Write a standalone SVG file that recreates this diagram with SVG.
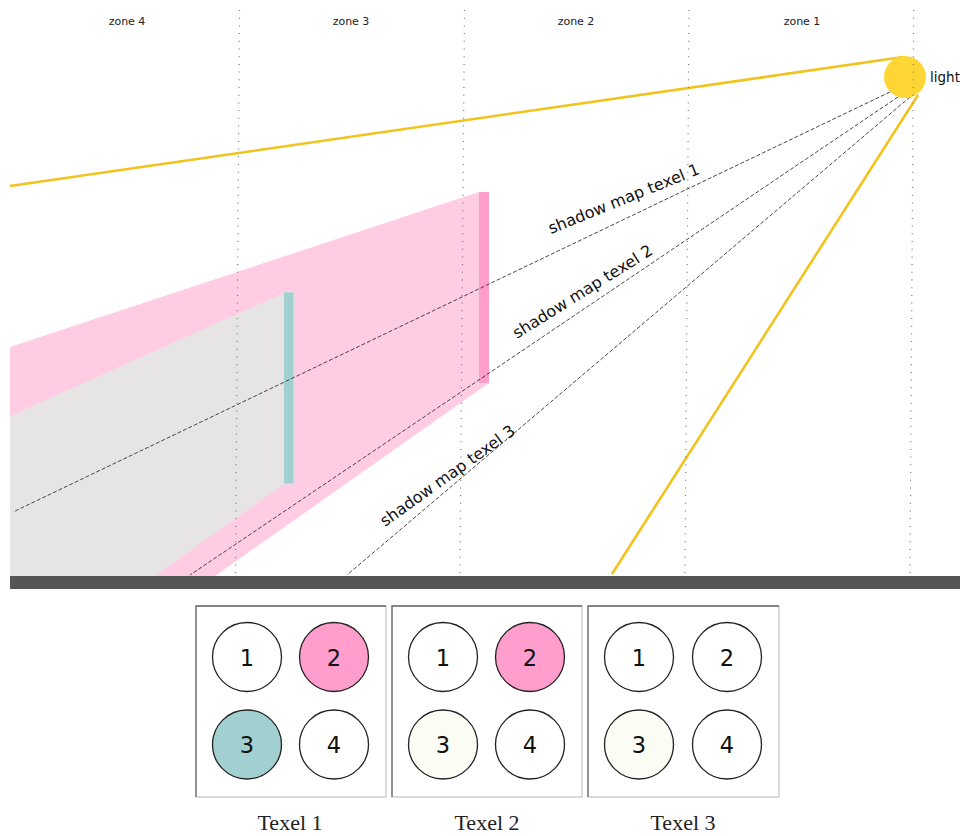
<svg xmlns="http://www.w3.org/2000/svg" width="960" height="836" viewBox="0 0 960 836">
  <style>
    .zone { font-family: "DejaVu Sans", Verdana, sans-serif; font-size: 11px; fill: #222; text-anchor: middle; }
    .ray-label { font-family: "DejaVu Sans", Verdana, sans-serif; font-size: 16px; fill: #111; }
    .light-label { font-family: "DejaVu Sans", Verdana, sans-serif; font-size: 13.5px; fill: #111; }
    .divider { stroke: #777; stroke-width: 1.2; stroke-dasharray: 1 6.7; fill: none; }
    .ray { stroke: #333; stroke-width: 0.9; stroke-dasharray: 4 2; fill: none; }
    .beam { stroke: #f2c31c; stroke-width: 2.6; fill: none; }
    .box { fill: #fff; stroke: #c4c4c4; stroke-width: 1.2; }
    .box-edge { stroke: #6a6a6a; stroke-width: 1.3; fill: none; }
    .sample { stroke: #222; stroke-width: 1.3; }
    .num { font-family: "DejaVu Sans", Verdana, sans-serif; font-size: 22.5px; fill: #111; text-anchor: middle; }
    .caption { font-family: "Liberation Serif", Georgia, serif; font-size: 22px; fill: #222; text-anchor: middle; }
    .white { fill: #ffffff; }
    .pink { fill: #ff9dcc; }
    .teal { fill: #a2cfcf; }
    .ivory { fill: #fbfcf3; }
  </style>

  <!-- shadow volumes -->
  <g id="shadow-pink">
    <polygon points="10,347 479,192 489,383 215,576 10,576" fill="#ffcce4"/>
  </g>
  <g id="shadow-gray">
    <polygon points="10,416 284,293 284,484 155,576 10,576" fill="#e6e4e5"/>
  </g>

  <!-- occluders -->
  <g id="occluder-pink">
    <rect x="479" y="192" width="10" height="191" fill="#ff9dcb"/>
  </g>
  <g id="occluder-teal">
    <rect x="283.5" y="292" width="10.5" height="192" fill="#a2cfcf" stroke="#d8ecec" stroke-width="0.8"/>
  </g>

  <!-- ground -->
  <g id="ground">
    <rect x="10" y="576" width="950" height="13" fill="#555555"/>
  </g>

  <!-- connectors -->
  <g id="connectors">
    <line class="beam" x1="10" y1="186" x2="903" y2="57"/>
    <line class="beam" x1="918" y1="95" x2="612" y2="574"/>
    <line class="ray" x1="890" y1="92" x2="13" y2="512"/>
    <line class="ray" x1="898" y1="97" x2="190" y2="575"/>
    <line class="ray" x1="910" y1="97" x2="347" y2="575"/>
  </g>

  <!-- light -->
  <g id="light">
    <circle cx="905" cy="77" r="21" fill="#fdd535"/>
    <text class="light-label" x="930" y="82">light</text>
  </g>

  <!-- zone dividers -->
  <g id="dividers">
    <line class="divider" x1="239.5" y1="10" x2="235.5" y2="574"/>
    <line class="divider" x1="464.5" y1="10" x2="460" y2="574"/>
    <line class="divider" x1="689" y1="10" x2="685" y2="574"/>
    <line class="divider" x1="913.7" y1="10" x2="910" y2="574"/>
  </g>

  <g id="zone-labels">
    <text class="zone" x="127" y="25">zone 4</text>
    <text class="zone" x="351" y="25">zone 3</text>
    <text class="zone" x="576" y="25">zone 2</text>
    <text class="zone" x="802" y="25">zone 1</text>
  </g>

  <g id="ray-labels">
    <text class="ray-label" transform="translate(551,234) rotate(-22)">shadow map texel 1</text>
    <text class="ray-label" transform="translate(517,339) rotate(-32)">shadow map texel 2</text>
    <text class="ray-label" transform="translate(385,527) rotate(-35.5)">shadow map texel 3</text>
  </g>

  <!-- texel panels -->
  <g id="texel-1">
    <rect class="box" x="196" y="606" width="190" height="191"/>
    <polyline class="box-edge" points="196,797 196,606 386,606"/>
    <circle class="sample white" cx="247" cy="657" r="34.5"/>
    <circle class="sample pink" cx="334" cy="657" r="34.5"/>
    <circle class="sample teal" cx="247" cy="744.5" r="34.5"/>
    <circle class="sample white" cx="334" cy="744.5" r="34.5"/>
    <text class="num" x="247" y="665.5">1</text>
    <text class="num" x="334" y="665.5">2</text>
    <text class="num" x="247" y="753">3</text>
    <text class="num" x="334" y="753">4</text>
    <text class="caption" x="290" y="830">Texel 1</text>
  </g>

  <g id="texel-2">
    <rect class="box" x="392" y="606" width="190" height="191"/>
    <polyline class="box-edge" points="392,797 392,606 582,606"/>
    <circle class="sample white" cx="443" cy="657" r="34.5"/>
    <circle class="sample pink" cx="530" cy="657" r="34.5"/>
    <circle class="sample ivory" cx="443" cy="744.5" r="34.5"/>
    <circle class="sample white" cx="530" cy="744.5" r="34.5"/>
    <text class="num" x="443" y="665.5">1</text>
    <text class="num" x="530" y="665.5">2</text>
    <text class="num" x="443" y="753">3</text>
    <text class="num" x="530" y="753">4</text>
    <text class="caption" x="487" y="830">Texel 2</text>
  </g>

  <g id="texel-3">
    <rect class="box" x="588" y="606" width="191" height="191"/>
    <polyline class="box-edge" points="588,797 588,606 779,606"/>
    <circle class="sample white" cx="639" cy="657" r="34.5"/>
    <circle class="sample white" cx="727" cy="657" r="34.5"/>
    <circle class="sample ivory" cx="639" cy="744.5" r="34.5"/>
    <circle class="sample white" cx="727" cy="744.5" r="34.5"/>
    <text class="num" x="639" y="665.5">1</text>
    <text class="num" x="727" y="665.5">2</text>
    <text class="num" x="639" y="753">3</text>
    <text class="num" x="727" y="753">4</text>
    <text class="caption" x="683" y="830">Texel 3</text>
  </g>
</svg>
